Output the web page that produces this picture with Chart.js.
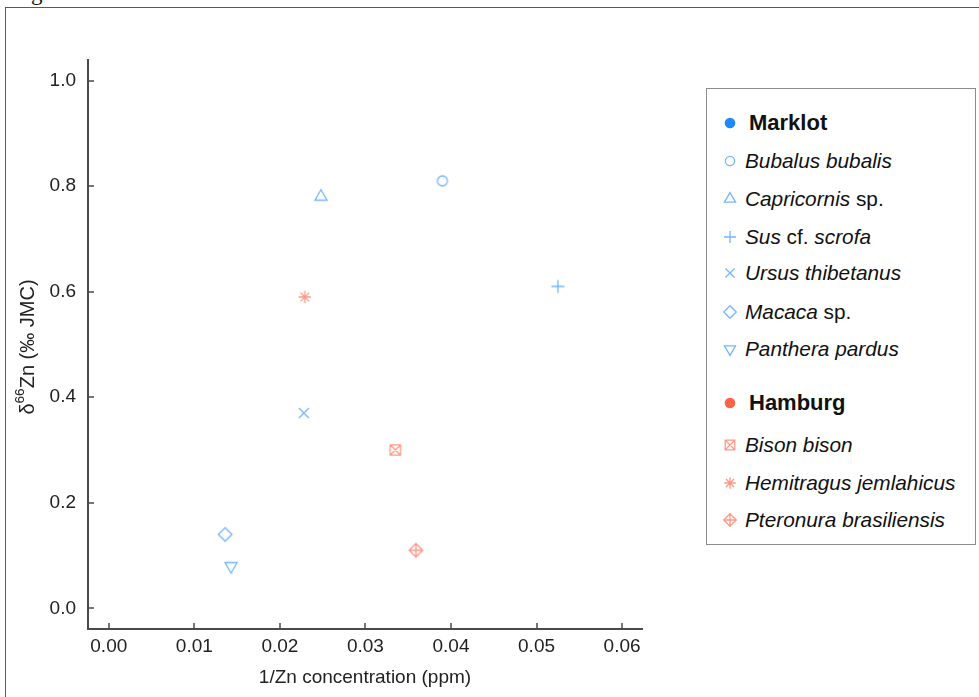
<!DOCTYPE html>
<html>
<head>
<meta charset="utf-8">
<script src="https://cdn.jsdelivr.net/npm/chart.js@4.4.1/dist/chart.umd.min.js"></script>
<style>
  html, body { margin: 0; padding: 0; background: #fff; width: 979px; height: 697px; overflow: hidden; }
  body { font-family: "Liberation Sans", Arial, Helvetica, sans-serif; color: #111; }
  #wrap { position: relative; width: 979px; height: 697px; overflow: hidden; }
  #frame { position: absolute; left: 5px; top: 7px; right: -5px; bottom: -5px;
           border-left: 1px solid #5a5a5a; border-top: 1px solid #5a5a5a; }
  #caption { position: absolute; left: 31px; top: -19px; font-family: "Liberation Serif", "DejaVu Serif", serif;
             font-size: 23px; line-height: 23px; color: #111; }
  #plot { position: absolute; left: 0; top: 0; }
  .ytitle { position: absolute; left: 27px; top: 347px; width: 240px; height: 24px; margin-left: -120px; margin-top: -12px;
            transform: rotate(-90deg); text-align: center; font-size: 20px; line-height: 24px; color: #222; white-space: nowrap; }
  .ytitle sup { font-size: 0.68em; line-height: 0; position: relative; top: -0.15em; }
  .xtitle { position: absolute; left: 165px; width: 400px; top: 665px; height: 24px; text-align: center;
            font-size: 19px; line-height: 24px; color: #222; white-space: nowrap; }
  #legend { position: absolute; left: 706px; top: 88px; width: 270px; height: 457px; box-sizing: border-box;
            border: 1.5px solid #8c8c8c; background: #fff; }
  .lrow { position: absolute; height: 30px; line-height: 30px; white-space: nowrap; color: #111; }
  .lhead { font-weight: bold; font-size: 22px; }
  .litem { font-size: 20.8px; }
  .lmark { position: absolute; }
</style>
</head>
<body>
<div id="wrap">
  <div id="frame"></div>
  <div id="caption">g</div>
  <canvas id="plot" width="979" height="697"></canvas>
  <div class="ytitle">δ<sup>66</sup>Zn (‰ JMC)</div>
  <div class="xtitle">1/Zn concentration (ppm)</div>
  <div id="legend"></div>
</div>
<script>
// ---- data ----
const sites = ['Marklot', 'Hamburg'];
const species = ['Bubalus bubalis', 'Capricornis sp.', 'Sus cf. scrofa', 'Ursus thibetanus',
                 'Macaca sp.', 'Panthera pardus', 'Bison bison', 'Hemitragus jemlahicus',
                 'Pteronura brasiliensis'];
const speciesSite = [0, 0, 0, 0, 0, 0, 1, 1, 1];
const invZn = [0.0390, 0.0248, 0.0525, 0.0228, 0.0136, 0.0143, 0.0335, 0.0229, 0.0359];
const d66Zn = [0.81, 0.78, 0.61, 0.37, 0.14, 0.08, 0.30, 0.59, 0.11];
const xTicks = [0.00, 0.01, 0.02, 0.03, 0.04, 0.05, 0.06];
const yTicks = [0.0, 0.2, 0.4, 0.6, 0.8, 1.0];

// ---- styles ----
const siteSolid = ['#1e88ff', '#ff6347'];
const siteMarker = ['rgba(30,136,255,0.62)', 'rgba(255,99,71,0.66)'];
const shapes = ['circle', 'triangle', 'plus', 'cross', 'diamond', 'triangleDown',
                'squareCross', 'asterisk', 'diamondPlus'];
const shapeSize = { circle: 5, triangle: 7, plus: 6.5, cross: 7, diamond: 6.8, triangleDown: 7,
                    squareCross: 5.2, asterisk: 6.2, diamondPlus: 6.8 };
const FONT = '"Liberation Sans", Arial, Helvetica, sans-serif';

function drawMarker(ctx, shape, cx, cy, r) {
  ctx.beginPath();
  const d = r * Math.SQRT1_2;
  switch (shape) {
    case 'circle':
      ctx.arc(cx, cy, r, 0, Math.PI * 2); break;
    case 'triangle':
      ctx.moveTo(cx, cy - r);
      ctx.lineTo(cx + r * 0.866, cy + r * 0.5);
      ctx.lineTo(cx - r * 0.866, cy + r * 0.5);
      ctx.closePath(); break;
    case 'triangleDown':
      ctx.moveTo(cx, cy + r);
      ctx.lineTo(cx + r * 0.866, cy - r * 0.5);
      ctx.lineTo(cx - r * 0.866, cy - r * 0.5);
      ctx.closePath(); break;
    case 'plus':
      ctx.moveTo(cx - r, cy); ctx.lineTo(cx + r, cy);
      ctx.moveTo(cx, cy - r); ctx.lineTo(cx, cy + r); break;
    case 'cross':
      ctx.moveTo(cx - d, cy - d); ctx.lineTo(cx + d, cy + d);
      ctx.moveTo(cx + d, cy - d); ctx.lineTo(cx - d, cy + d); break;
    case 'diamond':
      ctx.moveTo(cx, cy - r); ctx.lineTo(cx + r, cy); ctx.lineTo(cx, cy + r); ctx.lineTo(cx - r, cy);
      ctx.closePath(); break;
    case 'squareCross':
      ctx.rect(cx - r, cy - r, 2 * r, 2 * r);
      ctx.moveTo(cx - r, cy - r); ctx.lineTo(cx + r, cy + r);
      ctx.moveTo(cx + r, cy - r); ctx.lineTo(cx - r, cy + r); break;
    case 'asterisk':
      ctx.moveTo(cx - r, cy); ctx.lineTo(cx + r, cy);
      ctx.moveTo(cx, cy - r); ctx.lineTo(cx, cy + r);
      ctx.moveTo(cx - d, cy - d); ctx.lineTo(cx + d, cy + d);
      ctx.moveTo(cx + d, cy - d); ctx.lineTo(cx - d, cy + d); break;
    case 'diamondPlus':
      ctx.moveTo(cx, cy - r); ctx.lineTo(cx + r, cy); ctx.lineTo(cx, cy + r); ctx.lineTo(cx - r, cy);
      ctx.closePath();
      ctx.moveTo(cx - r, cy); ctx.lineTo(cx + r, cy);
      ctx.moveTo(cx, cy - r); ctx.lineTo(cx, cy + r); break;
  }
  ctx.stroke();
}

function markerCanvas(shape, color, r, size) {
  const c = document.createElement('canvas');
  c.width = size; c.height = size;
  const g = c.getContext('2d');
  g.strokeStyle = color;
  g.lineWidth = 1.3;
  drawMarker(g, shape, size / 2, size / 2, r);
  return c;
}

// ---- chart ----
const innerTicks = {
  id: 'innerTicks',
  afterDraw(chart) {
    const { ctx, chartArea: a, scales: { x, y } } = chart;
    ctx.save();
    ctx.strokeStyle = '#4a4a4a';
    ctx.lineWidth = 1.5;
    ctx.beginPath();
    x.ticks.forEach(t => {
      const px = Math.round(x.getPixelForValue(t.value));
      ctx.moveTo(px, a.bottom); ctx.lineTo(px, a.bottom - 6);
    });
    y.ticks.forEach(t => {
      const py = Math.round(y.getPixelForValue(t.value));
      ctx.moveTo(a.left, py); ctx.lineTo(a.left + 6, py);
    });
    ctx.stroke();
    ctx.restore();
  }
};

const datasets = species.map((name, i) => {
  const img = markerCanvas(shapes[i], siteMarker[speciesSite[i]], shapeSize[shapes[i]], 20);
  return {
    label: name,
    data: [{ x: invZn[i], y: d66Zn[i] }],
    pointStyle: img,
    pointRadius: 7,
    pointHoverRadius: 7,
    showLine: false
  };
});

new Chart(document.getElementById('plot'), {
  type: 'scatter',
  data: { datasets },
  plugins: [innerTicks],
  options: {
    responsive: false,
    animation: false,
    devicePixelRatio: 1,
    layout: { padding: { left: 0, top: 60, right: 337, bottom: 0 } },
    plugins: { legend: { display: false }, tooltip: { enabled: false } },
    events: [],
    scales: {
      x: {
        type: 'linear',
        min: -0.00243,
        max: 0.06233,
        afterFit: s => { s.height = 68; },
        afterBuildTicks: s => { s.ticks = xTicks.map(v => ({ value: v })); },
        grid: { display: false, drawTicks: false },
        border: { display: true, color: '#4a4a4a', width: 2 },
        ticks: {
          callback: v => Number(v).toFixed(2),
          font: { family: FONT, size: 19 },
          color: '#222',
          padding: 6,
          autoSkip: false,
          maxRotation: 0
        }
      },
      y: {
        type: 'linear',
        min: -0.0392,
        max: 1.039,
        afterFit: s => { s.width = 88; },
        afterBuildTicks: s => { s.ticks = yTicks.map(v => ({ value: v })); },
        grid: { display: false, drawTicks: false },
        border: { display: true, color: '#4a4a4a', width: 2 },
        ticks: {
          callback: v => Number(v).toFixed(1),
          font: { family: FONT, size: 19 },
          color: '#222',
          padding: 12,
          autoSkip: false
        }
      }
    }
  }
});

// ---- legend ----
const wrap = document.getElementById('wrap');
const headRows = [122.7, 402.7];
const itemRows = [160.5, 199.0, 236.7, 273.3, 311.5, 349.3, 444.8, 482.7, 520.2];

function italicize(name) {
  return name.split(' ').map(w => (w === 'sp.' || w === 'cf.') ? w : '<i>' + w + '</i>').join(' ');
}

function addRow(html, cls, left, cy) {
  const d = document.createElement('div');
  d.className = 'lrow ' + cls;
  d.style.left = left + 'px';
  d.style.top = (cy - 15) + 'px';
  d.innerHTML = html;
  wrap.appendChild(d);
}

function addMark(canvas, cx, cy) {
  canvas.className = 'lmark';
  canvas.style.left = (cx - canvas.width / 2) + 'px';
  canvas.style.top = (cy - canvas.height / 2) + 'px';
  wrap.appendChild(canvas);
}

sites.forEach((s, k) => {
  const c = document.createElement('canvas');
  c.width = 16; c.height = 16;
  const g = c.getContext('2d');
  g.fillStyle = siteSolid[k];
  g.beginPath(); g.arc(8, 8, 5.3, 0, Math.PI * 2); g.fill();
  addMark(c, 730, headRows[k]);
  addRow(s, 'lhead', 749, headRows[k]);
});

species.forEach((name, i) => {
  const c = markerCanvas(shapes[i], siteMarker[speciesSite[i]], shapeSize[shapes[i]] * 0.92, 20);
  addMark(c, 730, itemRows[i]);
  addRow(italicize(name), 'litem', 745, itemRows[i]);
});
</script>
</body>
</html>
